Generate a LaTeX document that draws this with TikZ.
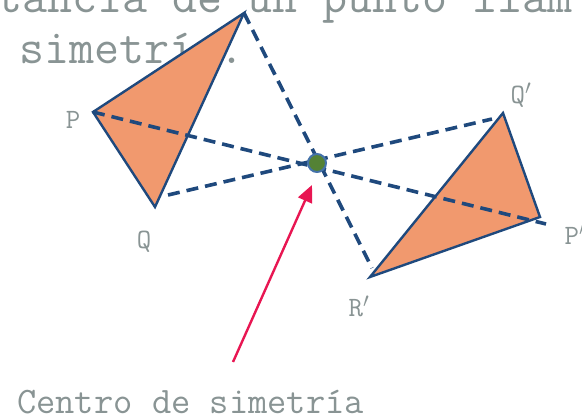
\documentclass[tikz,border=0pt]{standalone}
\usetikzlibrary{arrows.meta}
\definecolor{triorange}{RGB}{241,153,110}
\definecolor{darkblue}{RGB}{31,73,125}
\definecolor{txtgray}{RGB}{137,148,148}
\definecolor{cgreen}{RGB}{84,130,53}
\definecolor{cblue}{RGB}{68,114,170}
\definecolor{arrowred}{RGB}{232,22,82}
\begin{document}
\begin{tikzpicture}[x=1pt,y=-1pt,
  tri/.style={fill=triorange,draw=darkblue,line width=2.4pt,line join=miter},
  dashline/.style={draw=darkblue,line width=3.6pt,dash pattern=on 12pt off 7pt},
  lbl/.style={font=\fontsize{28}{28}\selectfont\ttfamily,text=txtgray,inner sep=0pt},
  bigtxt/.style={font=\fontsize{48.6}{50}\selectfont\ttfamily,text=txtgray,inner sep=0pt,anchor=base west},
  captxt/.style={font=\fontsize{37.4}{38}\selectfont\ttfamily,text=txtgray,inner sep=0pt,anchor=base west}]
\useasboundingbox (0,0) rectangle (582,418);
\clip (0,0) rectangle (582,418);
% text
\node[bigtxt] (line1) at (-3,12) {tancia de un punto llam};
\node[bigtxt] (line2) at (19,63) {simetría.};
\node[captxt] (cap) at (17,413) {Centro de simetría};
% vertices
\coordinate (R) at (244,13);
\coordinate (P) at (93,112);
\coordinate (Q) at (155,207);
\coordinate (Qp) at (503,113);
\coordinate (Pp) at (540,217);
\coordinate (Rp) at (370,277);
\coordinate (O) at (317,163);
% dashed ends
\coordinate (Rend) at (372,268);
\coordinate (Pend) at (546,224);
\coordinate (Qstart) at (168,195);
\coordinate (Qend) at (492,119);
\coordinate (Atail) at (233,362);
\coordinate (Atip) at (312,185);
% triangles
\path[tri] (R) -- (P) -- (Q) -- cycle;
\path[tri] (Qp) -- (Pp) -- (Rp) -- cycle;
% dashed lines
\draw[dashline] (R) -- (Rend);
\draw[dashline] (P) -- (Pend);
\draw[dashline] (Qstart) -- (Qend);
% center
\node[circle,fill=cgreen,draw=cblue,line width=2pt,minimum size=18pt,inner sep=0pt] (C) at (O) {};
% arrow
\draw[arrowred,line width=2.4pt,-{Triangle[length=17pt,width=15pt]}] (Atail) -- (Atip);
% labels
\node[lbl] (lP) at (73,120) {P};
\node[lbl] (lQ) at (144,242) {Q};
\node[lbl] (lQp) at (521,95) {Q$'$};
\node[lbl] (lPp) at (575,234) {P$'$};
\node[lbl] (lRp) at (359,306) {R$'$};
\end{tikzpicture}
\end{document}
